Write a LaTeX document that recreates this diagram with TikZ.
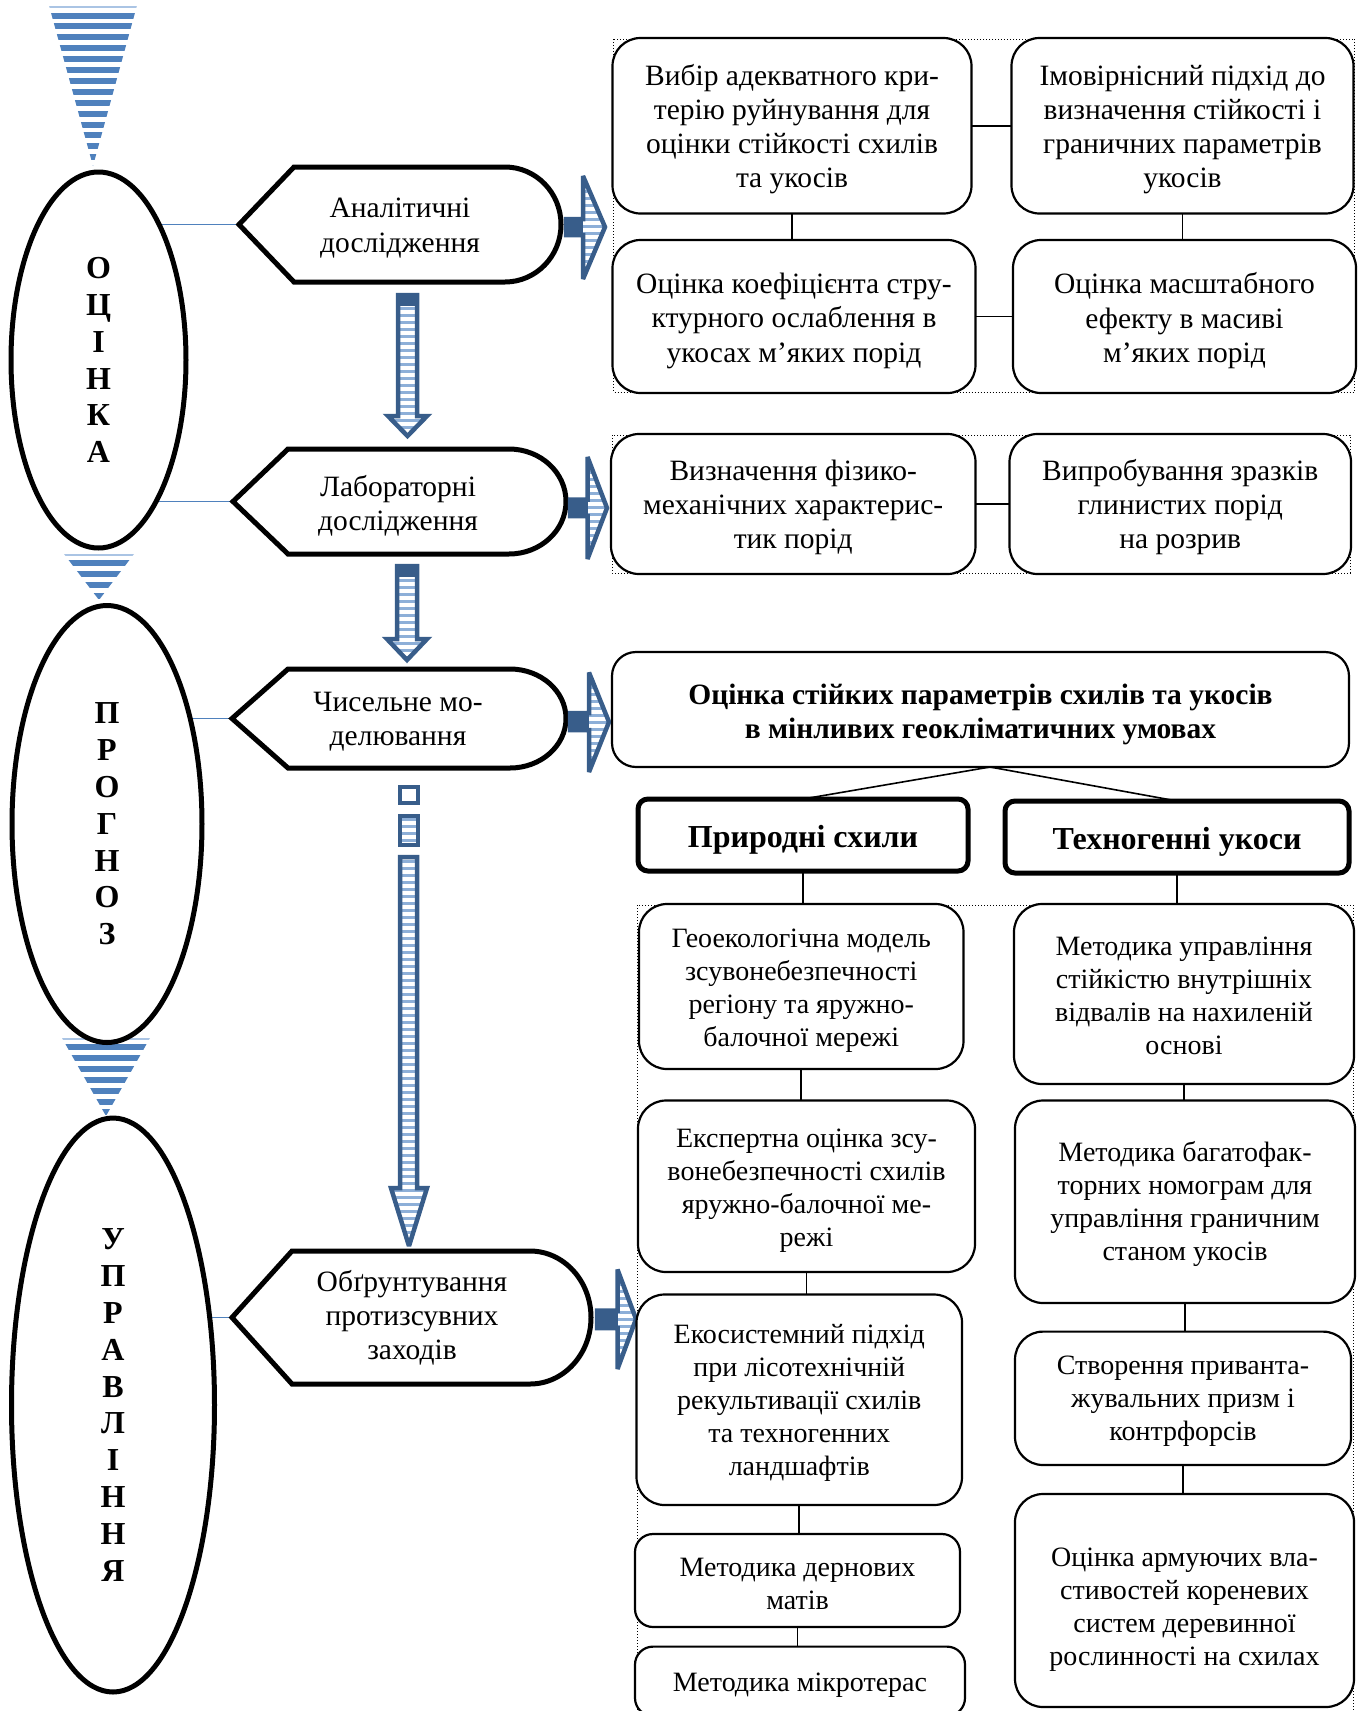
\documentclass[tikz,border=0pt]{standalone}
\usepackage{fontspec}
\setmainfont{Liberation Serif}
\usetikzlibrary{backgrounds,shapes.geometric}
\definecolor{arrowblue}{RGB}{56,93,138}
\definecolor{stripeblue}{RGB}{79,129,189}
\definecolor{lightstripe}{RGB}{141,175,216}
\definecolor{paleblue}{RGB}{170,196,228}
\newcommand\fsz{\fontsize{28}{33}\selectfont}
\newcommand\fszb{\fontsize{29.5}{34.2}\selectfont}
\newcommand\fhd{\fontsize{32}{36}\selectfont\bfseries}
\newcommand\fbig{\fontsize{32}{36.8}\selectfont\bfseries}
\newcommand\mystrut[1]{\rule{0pt}{#1pt}}
\begin{document}
\begin{tikzpicture}[x=1pt,y=-1pt,
  rbox/.style={draw=black, line width=2.2pt, rounded corners=28pt, fill=white, align=center, inner sep=0pt, outer sep=0pt, font=\fsz},
  tbox/.style={rbox, font=\fszb},
  sbox/.style={rbox, rounded corners=18pt},
  hbox/.style={draw=black, line width=5pt, rounded corners=10pt, fill=white, align=center, inner sep=0pt, outer sep=0pt, font=\fhd},
  oval/.style={ellipse, draw=black, line width=5pt, fill=white, inner sep=0pt, align=center, font=\fbig},
  hexshape/.style={draw=black, line width=5pt, fill=white, miter limit=4},
  hextext/.style={align=center, font=\fszb, inner sep=0pt},
  link/.style={draw=stripeblue, line width=1.6pt},
  conn/.style={draw=black, line width=1.6pt},
  frame/.style={draw=black, line width=1pt, dotted},
  arrline/.style={draw=arrowblue, line width=4.5pt, miter limit=3},
  tri/.style={fill=stripeblue},
  strp/.style={fill=lightstripe}
]
\useasboundingbox (0,0) rectangle (1365,1711);

% ---------- striped triangles ----------
\begin{scope}
  \clip (49,5.5) -- (137,5.5) -- (93,166) -- cycle;
  \fill[paleblue] (40,5.5) rectangle (150,7.5);
  \foreach \i in {0,...,14} \fill[tri] (40,12.5+\i*10.9) rectangle (150,18.5+\i*10.9);
\end{scope}
\begin{scope}
  \clip (64,554) -- (134,554) -- (99,600) -- cycle;
  \fill[paleblue] (40,554) rectangle (150,556);
  \foreach \i in {0,...,3} \fill[tri] (40,560+\i*10.9) rectangle (150,566+\i*10.9);
\end{scope}
\begin{scope}
  \clip (62,1038) -- (150,1038) -- (106,1116) -- cycle;
  \fill[paleblue] (40,1038) rectangle (170,1040);
  \foreach \i in {0,...,6} \fill[tri] (40,1044+\i*10.9) rectangle (170,1050+\i*10.9);
\end{scope}

% ---------- ellipses ----------
\node[oval, minimum width=175pt, minimum height=376pt] (E1) at (98.5,360) {О\\Ц\\І\\Н\\К\\А};
\node[oval, minimum width=190pt, minimum height=437pt] (E2) at (107,824) {П\\Р\\О\\Г\\Н\\О\\З};
\node[oval, minimum width=203pt, minimum height=574pt] (E3) at (113,1405) {У\\П\\Р\\А\\В\\Л\\І\\Н\\Н\\Я};

% ---------- hexagon-like shapes ----------
\draw[hexshape] (239,224.5) -- (294,167) -- (505,167) .. controls (535.9,167) and (561,192.7) .. (561,224.5) .. controls (561,256.3) and (535.9,282) .. (505,282) -- (294,282) -- cycle;
\draw[hexshape] (233,501.5) -- (288,449) -- (509,449) .. controls (540.5,449) and (566,472.5) .. (566,501.5) .. controls (566,530.5) and (540.5,554) .. (509,554) -- (288,554) -- cycle;
\draw[hexshape] (232,718.5) -- (288,669) -- (510,669) .. controls (540.9,669) and (566,691.2) .. (566,718.5) .. controls (566,745.8) and (540.9,768) .. (510,768) -- (288,768) -- cycle;
\draw[hexshape] (232,1317.5) -- (292,1251) -- (530,1251) .. controls (563.7,1251) and (591,1280.8) .. (591,1317.5) .. controls (591,1354.2) and (563.7,1384) .. (530,1384) -- (292,1384) -- cycle;
\node[hextext] (h1) at (400,228) {Аналітичні\\дослідження};
\node[hextext] (h2) at (398,506) {Лабораторні\\дослідження};
\node[hextext] (h3) at (398,722) {Чисельне мо-\\делювання};
\node[hextext] (h4) at (412,1318) {Обґрунтування\\протизсувних\\заходів};
\coordinate (h1l) at (239,224.5);
\coordinate (h2l) at (233,501.5);
\coordinate (h3l) at (232,718.5);
\coordinate (h4l) at (232,1317.5);

% ---------- down arrows ----------
\begin{scope}
  \clip (398,295) -- (417,295) -- (417,416) -- (427,416) -- (407.5,436) -- (388,416) -- (398,416) -- cycle;
  \foreach \i in {0,...,20} \fill[strp] (380,300+\i*7) rectangle (440,303+\i*7);
\end{scope}
\draw[arrline] (398,295) -- (417,295) -- (417,416) -- (427,416) -- (407.5,436) -- (388,416) -- (398,416) -- cycle;
\fill[arrowblue] (398,295) rectangle (417,306);

\begin{scope}
  \clip (397,566) -- (417,566) -- (417,639) -- (427,639) -- (407,660) -- (387,639) -- (397,639) -- cycle;
  \foreach \i in {0,...,14} \fill[strp] (380,572+\i*7) rectangle (440,575+\i*7);
\end{scope}
\draw[arrline] (397,566) -- (417,566) -- (417,639) -- (427,639) -- (407,660) -- (387,639) -- (397,639) -- cycle;
\fill[arrowblue] (397,566) rectangle (417,577);

\draw[arrline] (400,787) rectangle (418,803);
\begin{scope}
  \clip (400,816) rectangle (418,845);
  \foreach \i in {0,...,4} \fill[strp] (380,818+\i*7) rectangle (440,821+\i*7);
\end{scope}
\draw[arrline] (400,816) rectangle (418,845);
\begin{scope}
  \clip (400,857) -- (417,857) -- (417,1188) -- (427,1188) -- (409,1246) -- (391,1188) -- (400,1188) -- cycle;
  \foreach \i in {0,...,56} \fill[strp] (380,860+\i*7) rectangle (440,863+\i*7);
\end{scope}
\draw[arrline] (400,857) -- (417,857) -- (417,1188) -- (427,1188) -- (409,1246) -- (391,1188) -- (400,1188) -- cycle;

% ---------- right arrows ----------
\begin{scope}
  \clip (566,219) -- (583,219) -- (583,176) -- (605,227) -- (583,279) -- (583,235) -- (566,235) -- cycle;
  \foreach \i in {0,...,15} \fill[strp] (560,176+\i*7) rectangle (620,179+\i*7);
\end{scope}
\fill[arrowblue] (566,219) rectangle (583,235);
\draw[arrline] (566,219) -- (583,219) -- (583,176) -- (605,227) -- (583,279) -- (583,235) -- (566,235) -- cycle;

\begin{scope}
  \clip (570,499.5) -- (587.5,499.5) -- (587.5,457) -- (607,508) -- (587.5,559) -- (587.5,516) -- (570,516) -- cycle;
  \foreach \i in {0,...,15} \fill[strp] (560,457+\i*7) rectangle (620,460+\i*7);
\end{scope}
\fill[arrowblue] (570,499.5) rectangle (587.5,516);
\draw[arrline] (570,499.5) -- (587.5,499.5) -- (587.5,457) -- (607,508) -- (587.5,559) -- (587.5,516) -- (570,516) -- cycle;

\begin{scope}
  \clip (570,713) -- (589,713) -- (589,672.5) -- (609,722) -- (589,772) -- (589,730) -- (570,730) -- cycle;
  \foreach \i in {0,...,15} \fill[strp] (560,672+\i*7) rectangle (620,675+\i*7);
\end{scope}
\fill[arrowblue] (570,713) rectangle (589,730);
\draw[arrline] (570,713) -- (589,713) -- (589,672.5) -- (609,722) -- (589,772) -- (589,730) -- (570,730) -- cycle;

\begin{scope}
  \clip (597,1310.5) -- (617.5,1310.5) -- (617.5,1269.5) -- (636,1319) -- (617.5,1369) -- (617.5,1328) -- (597,1328) -- cycle;
  \foreach \i in {0,...,15} \fill[strp] (590,1269+\i*7) rectangle (650,1272+\i*7);
\end{scope}
\fill[arrowblue] (597,1310.5) rectangle (617.5,1328);
\draw[arrline] (597,1310.5) -- (617.5,1310.5) -- (617.5,1269.5) -- (636,1319) -- (617.5,1369) -- (617.5,1328) -- (597,1328) -- cycle;

% ---------- boxes ----------
\node[tbox, minimum width=359pt, minimum height=175.5pt] (A) at (792,125.75) {\mystrut{28.2}Вибір адекватного кри-\\терію руйнування для\\оцінки стійкості схилів\\та укосів};
\node[tbox, minimum width=342pt, minimum height=175.5pt] (B) at (1182.5,125.75) {\mystrut{28.2}Імовірнісний підхід до\\визначення стійкості і\\граничних параметрів\\укосів};
\node[tbox, minimum width=363pt, minimum height=153pt] (C) at (794,316.5) {\mystrut{29.3}Оцінка коефіцієнта стру-\\ктурного ослаблення в\\укосах м’яких порід};
\node[tbox, minimum width=343pt, minimum height=153pt] (D) at (1184.5,316.5) {\mystrut{29.3}Оцінка масштабного\\ефекту в масиві\\м’яких порід};
\node[tbox, minimum width=364.5pt, minimum height=140pt] (E) at (793.25,504) {\mystrut{27.1}Визначення фізико-\\механічних характерис-\\тик порід};
\node[tbox, minimum width=341.5pt, minimum height=140pt] (F) at (1180.25,504) {\mystrut{27.1}Випробування зразків\\глинистих порід\\на розрив};
\node[tbox, rounded corners=24pt, minimum width=737pt, minimum height=115pt, font=\fszb\bfseries] (G) at (980.5,709.5) {\mystrut{30.4}Оцінка стійких параметрів схилів та укосів\\в мінливих геокліматичних умовах};
\node[hbox, minimum width=330pt, minimum height=72pt] (H) at (803,835) {\mystrut{31}Природні схили};
\node[hbox, minimum width=344pt, minimum height=72pt] (I) at (1177,837) {\mystrut{31}Техногенні укоси};
\node[rbox, minimum width=324.5pt, minimum height=165pt] (J) at (801.25,986.5) {\mystrut{27.2}Геоекологічна модель\\зсувонебезпечності\\регіону та яружно-\\балочної мережі};
\node[rbox, minimum width=340pt, minimum height=180pt] (K) at (1184,994) {\mystrut{22.9}Методика управління\\стійкістю внутрішніх\\відвалів на нахиленій\\основі};
\node[rbox, minimum width=337pt, minimum height=171.5pt] (L) at (806.5,1186.25) {\mystrut{27.2}Експертна оцінка зсу-\\вонебезпечності схилів\\яружно-балочної ме-\\режі};
\node[rbox, minimum width=340pt, minimum height=202.5pt] (M) at (1185,1201.75) {\mystrut{25.1}Методика багатофак-\\торних номограм для\\управління граничним\\станом укосів};
\node[rbox, minimum width=325.5pt, minimum height=210.5pt] (N) at (799.25,1399.75) {\mystrut{25.1}Екосистемний підхід\\при лісотехнічній\\рекультивації схилів\\та техногенних\\ландшафтів};
\node[rbox, minimum width=336pt, minimum height=133.4pt] (O) at (1183,1398.3) {\mystrut{25.1}Створення приванта-\\жувальних призм і\\контрфорсів};
\node[sbox, minimum width=325pt, minimum height=93pt] (P) at (797.5,1580.5) {\mystrut{25.1}Методика дернових\\матів};
\node[rbox, minimum width=339pt, minimum height=213pt] (Q) at (1184.5,1600.5) {\mystrut{37}Оцінка армуючих вла-\\стивостей кореневих\\систем деревинної\\рослинності на схилах};
\node[sbox, minimum width=330pt, minimum height=69.4pt] (R) at (800,1681.3) {\mystrut{26.1}Методика мікротерас};

% ---------- connectors ----------
\draw[conn] (A.east) -- (A.east -| B.west);
\draw[conn] (A.south) -- (A.south |- C.north);
\draw[conn] (B.south) -- (B.south |- D.north);
\draw[conn] (C.east) -- (C.east -| D.west);
\draw[conn] (E.east) -- (E.east -| F.west);
\draw[conn] ([xshift=9.5pt]G.south) -- (H.north);
\draw[conn] ([xshift=9.5pt]G.south) -- (I.north);
\draw[conn] (H.south) -- (H.south |- J.north);
\draw[conn] (J.south) -- (J.south |- L.north);
\draw[conn] (L.south) -- (L.south |- N.north);
\draw[conn] (N.south) -- (N.south |- P.north);
\draw[conn] (P.south) -- (P.south |- R.north);
\draw[conn] (I.south) -- (I.south |- K.north);
\draw[conn] (K.south) -- (K.south |- M.north);
\draw[conn] (M.south) -- (M.south |- O.north);
\draw[conn] (O.south) -- (O.south |- Q.north);

\begin{scope}[on background layer]
  \draw[link] (h1l) -- (E1.center |- h1l);
  \draw[link] (h2l) -- (E1.center |- h2l);
  \draw[link] (h3l) -- (E2.center |- h3l);
  \draw[link] (h4l) -- (E3.center |- h4l);
  \draw[frame] (613.5,39) rectangle (1354.5,392);
  \draw[frame] (612,435) rectangle (1350,573);
  \draw[frame] (637.5,905) rectangle (1353,1725);
\end{scope}
\end{tikzpicture}
\end{document}
